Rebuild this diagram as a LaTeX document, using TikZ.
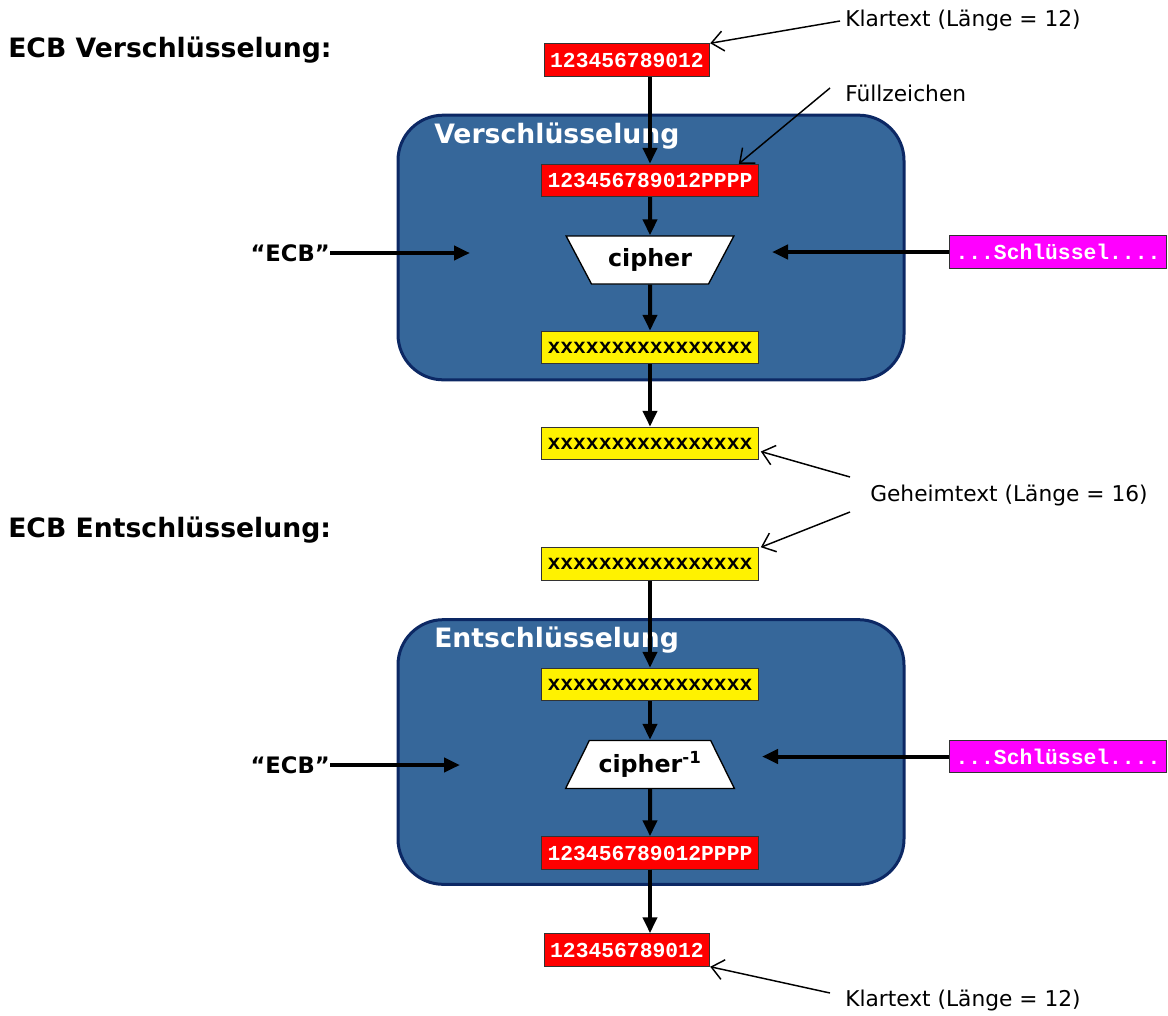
\documentclass[tikz,border=0pt]{standalone}
\usepackage{fontspec}
\setmainfont{DejaVu Sans}
\setmonofont{Liberation Mono}
\usepackage{tikz}
\usetikzlibrary{calc}
\usetikzlibrary{shapes,arrows.meta,positioning,shapes.geometric}
\definecolor{boxblue}{RGB}{54,103,154}
\definecolor{boxedge}{RGB}{12,40,100}
\definecolor{keypink}{RGB}{255,0,255}

\begin{document}
\begin{tikzpicture}[x=0.75pt, y=-0.75pt]
    % Define block styles
    \tikzstyle{heading} = [font=\fontsize{20}{24}\selectfont\bfseries, inner sep=0pt, anchor=west]
    \tikzstyle{stage} = [rectangle, rounded corners=34pt, draw=boxedge, line width=2.25pt, fill=boxblue, minimum width=379.5pt, minimum height=198.5pt]
    \tikzstyle{stagetitle} = [heading, text=white]
    \tikzstyle{datum} = [rectangle, draw=black!80, line width=0.6pt, inner xsep=4.5pt, inner ysep=0pt, minimum height=24.5pt, font=\fontsize{16}{18}\selectfont\ttfamily\bfseries]
    \tikzstyle{plainbox} = [datum, fill=red, text=white]
    \tikzstyle{cryptbox} = [datum, fill=yellow, text=black]
    \tikzstyle{keybox} = [datum, fill=keypink, text=white]
    \tikzstyle{cipherbox} = [trapezium, trapezium left angle=51.6, trapezium right angle=51.6, trapezium stretches=true, minimum width=126.75pt, minimum height=36pt, inner sep=0pt, draw=black, line width=1pt, fill=white, font=\fontsize{17.8}{20}\selectfont\bfseries]
    \tikzstyle{mode} = [font=\fontsize{17}{20}\selectfont\bfseries, inner sep=0pt, anchor=east]
    \tikzstyle{note} = [font=\fontsize{16.3}{19}\selectfont, inner sep=0pt, anchor=west]
    \tikzstyle{arrow} = [line width=3pt, -{Triangle[length=12pt, width=10.5pt]}]
    \tikzstyle{pointer} = [line width=1.1pt, -{Straight Barb[length=9pt, width=15pt]}]

    \useasboundingbox (0,0) rectangle (1168,1015);

    % Blocks
    \node (encstage) [stage] at (651,247.5) {};
    \node (decstage) [stage] at (651,752) {};
    \node (enctitle) [stagetitle] at (434,136) {Verschlüsselung};
    \node (dectitle) [stagetitle] at (434,640) {Entschlüsselung};
    \node (enchead) [heading] at (8,50) {ECB Verschlüsselung:};
    \node (dechead) [heading] at (8,530) {ECB Entschlüsselung:};

    % Encryption column
    \node (plain) [plainbox] at (627,60) {123456789012};
    \node (pad) [plainbox] at (650,180.5) {123456789012PPPP};
    \node (enc) [cipherbox, shape border rotate=180] at (650,260) {cipher};
    \node (ct1) [cryptbox] at (650,347.5) {xxxxxxxxxxxxxxxx};
    \node (ct2) [cryptbox] at (650,443.5) {xxxxxxxxxxxxxxxx};

    % Decryption column
    \node (ct3) [cryptbox] at (650,564) {xxxxxxxxxxxxxxxx};
    \node (ct4) [cryptbox] at (650,684.5) {xxxxxxxxxxxxxxxx};
    \node (dec) [cipherbox] at (650,764.5) {cipher\textsuperscript{-1}};
    \node (padout) [plainbox] at (650,853) {123456789012PPPP};
    \node (plainout) [plainbox] at (627,950) {123456789012};

    % Side inputs
    \node (ecbenc) [mode] at (330,253) {\textquotedblleft ECB\textquotedblright};
    \node (ecbdec) [mode] at (330,765) {\textquotedblleft ECB\textquotedblright};
    \node (keyenc) [keybox] at (1058,252) {...Schlüssel....};
    \node (keydec) [keybox] at (1058,756.5) {...Schlüssel....};
    \coordinate (ecbencin) at (470,253);
    \coordinate (ecbdecin) at (460,765);
    \coordinate (keyencin) at (772,252);
    \coordinate (keydecin) at (762,756.5);

    % Notes
    \node (klarin) [note] at (845,20) {Klartext (Länge = 12)};
    \node (fill) [note] at (845,93) {Füllzeichen};
    \node (geheim) [note] at (870,495) {Geheimtext (Länge = 16)};
    \node (klarout) [note] at (845,1000) {Klartext (Länge = 12)};

    % Arrows between nodes
    \draw [arrow] (pad |- plain.south) -- (pad.north);
    \draw [arrow] (pad) -- (enc);
    \draw [arrow] (enc) -- (ct1);
    \draw [arrow] (ct1) -- (ct2);
    \draw [arrow] (ct3) -- (ct4);
    \draw [arrow] (ct4) -- (dec);
    \draw [arrow] (dec) -- (padout);
    \draw [arrow] (padout.south) -- (padout.south |- plainout.north);
    \draw [arrow] (ecbenc.east) -- (ecbencin);
    \draw [arrow] (ecbdec.east) -- (ecbdecin);
    \draw [arrow] (keyenc.west) -- (keyencin);
    \draw [arrow] (keydec.west) -- (keydecin);

    % Note pointers
    \draw [pointer] ($(klarin.west)+(-5,1)$) -- (plain.north east);
    \draw [pointer] ($(fill.west)+(-15,-5)$) -- ($(pad.north east)+(-20,0)$);
    \draw [pointer] ($(geheim.west)+(-20,-18)$) -- ($(ct2.east)+(2,8)$);
    \draw [pointer] ($(geheim.west)+(-20,17)$) -- ($(ct3.north east)+(2,0)$);
    \draw [pointer] ($(klarout.west)+(-15,-7)$) -- (plainout.south east);
\end{tikzpicture}
\end{document}
